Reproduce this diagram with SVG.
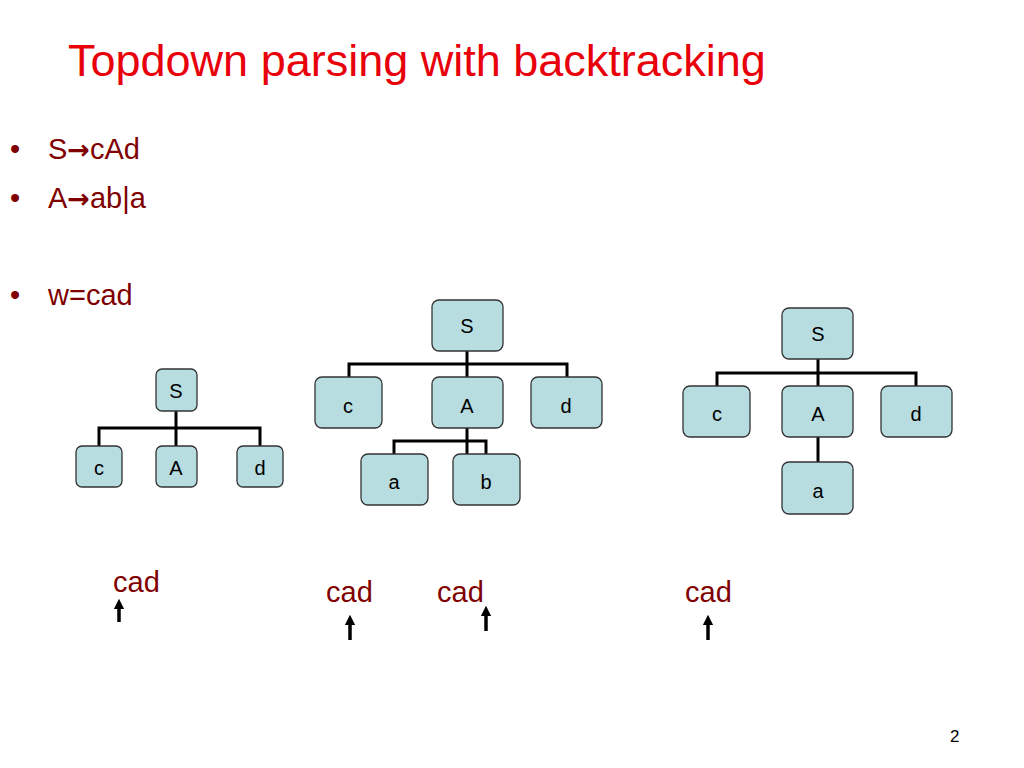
<svg xmlns="http://www.w3.org/2000/svg" width="1024" height="768" viewBox="0 0 1024 768">
<style>
text{font-family:"Liberation Sans",Arial,sans-serif}
.n rect{fill:#b7dde1;stroke:#333;stroke-width:1.3}
.n text{font-size:20px;text-anchor:middle;fill:#000}
.c{stroke:#000;stroke-width:3;fill:none}
.r{fill:#800000;font-size:29px}
.ar{font-family:"DejaVu Sans",sans-serif;font-weight:bold;font-size:27px}
.p{stroke:#000;stroke-width:3.5}
</style>
<defs><marker id="ah" viewBox="0 0 10 10" refX="5" refY="5" markerWidth="3" markerHeight="3" orient="auto"><path d="M0,0L10,5L0,10z" fill="#000"/></marker></defs>
<rect width="1024" height="768" fill="#fff"/>
<text x="68" y="76" font-size="45" fill="#e8000b">Topdown parsing with backtracking</text>
<text class="r" x="10" y="159">•</text><text class="r" x="48" y="159">S<tspan class="ar">→</tspan>cAd</text>
<text class="r" x="10" y="208">•</text><text class="r" x="48" y="208">A<tspan class="ar">→</tspan>ab|a</text>
<text class="r" x="10" y="305">•</text><text class="r" x="48" y="305">w=cad</text>
<g id="connectors">
<path class="c" d="M176,411V428M99,446V428H260V446M176,428V446"/>
<path class="c" d="M467,351V377M349,377V364H567V377M467,428V454M394,454V441H486V454"/>
<path class="c" d="M818,359V386M717,386V373H916V386M818,437V462"/>
<line class="p" x1="119" y1="622" x2="119" y2="604" marker-end="url(#ah)"/>
<line class="p" x1="350" y1="640" x2="350" y2="620" marker-end="url(#ah)"/>
<line class="p" x1="486" y1="631" x2="486" y2="611" marker-end="url(#ah)"/>
<line class="p" x1="708" y1="640" x2="708" y2="620" marker-end="url(#ah)"/>
</g>
<g id="t1S" class="n"><rect x="156" y="369" width="41" height="42" rx="6"/><text x="176" y="398">S</text></g>
<g id="t1c" class="n"><rect x="76" y="446" width="46" height="41" rx="6"/><text x="99" y="475">c</text></g>
<g id="t1A" class="n"><rect x="156" y="446" width="41" height="41" rx="6"/><text x="176" y="475">A</text></g>
<g id="t1d" class="n"><rect x="237" y="446" width="46" height="41" rx="6"/><text x="260" y="475">d</text></g>
<g id="t2S" class="n"><rect x="432" y="300" width="71" height="51" rx="7"/><text x="467" y="333">S</text></g>
<g id="t2c" class="n"><rect x="315" y="377" width="67" height="51" rx="7"/><text x="348" y="413">c</text></g>
<g id="t2A" class="n"><rect x="432" y="377" width="71" height="51" rx="7"/><text x="467" y="413">A</text></g>
<g id="t2d" class="n"><rect x="531" y="377" width="71" height="51" rx="7"/><text x="566" y="413">d</text></g>
<g id="t2a" class="n"><rect x="361" y="454" width="67" height="51" rx="7"/><text x="394" y="489">a</text></g>
<g id="t2b" class="n"><rect x="453" y="454" width="67" height="51" rx="7"/><text x="486" y="489">b</text></g>
<g id="t3S" class="n"><rect x="782" y="308" width="71" height="51" rx="7"/><text x="818" y="341">S</text></g>
<g id="t3c" class="n"><rect x="683" y="386" width="67" height="51" rx="7"/><text x="717" y="421">c</text></g>
<g id="t3A" class="n"><rect x="782" y="386" width="71" height="51" rx="7"/><text x="818" y="421">A</text></g>
<g id="t3d" class="n"><rect x="881" y="386" width="71" height="51" rx="7"/><text x="916" y="421">d</text></g>
<g id="t3a" class="n"><rect x="782" y="462" width="71" height="52" rx="7"/><text x="818" y="498">a</text></g>
<text class="r" x="113" y="592">cad</text>
<text class="r" x="326" y="602">cad</text>
<text class="r" x="437" y="602">cad</text>
<text class="r" x="685" y="602">cad</text>
<text x="950" y="742" font-size="17" fill="#000">2</text>
</svg>
